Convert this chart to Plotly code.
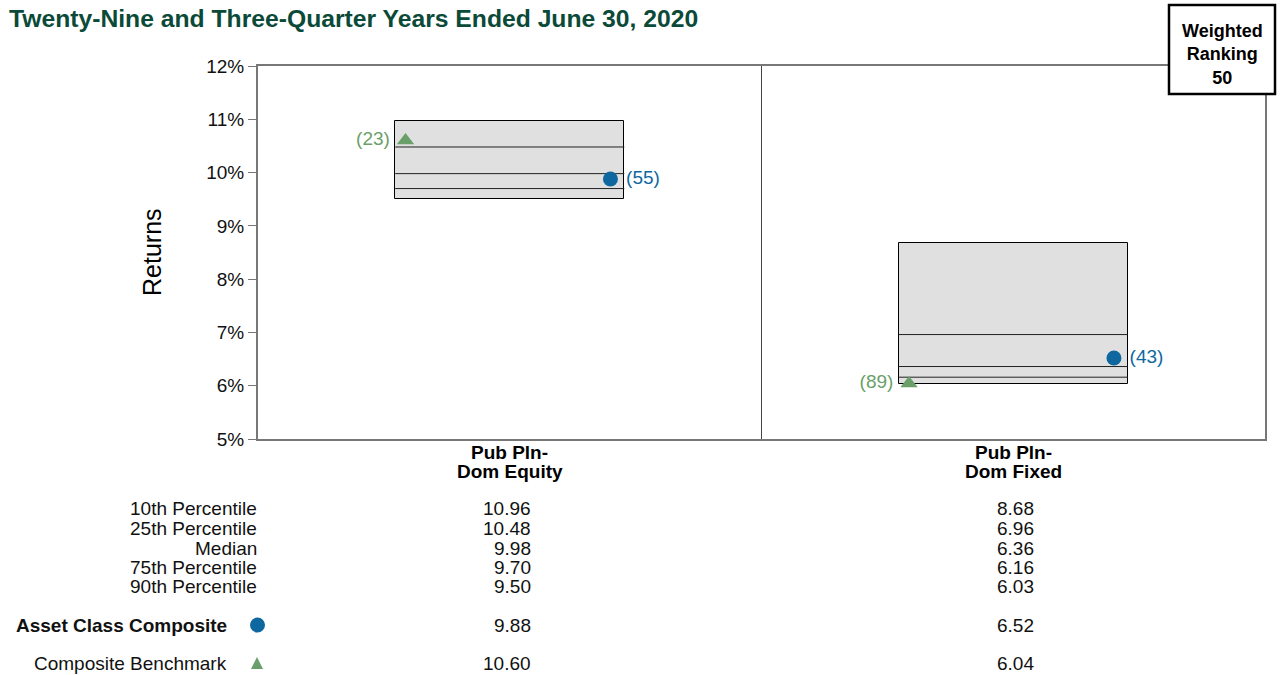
import plotly.graph_objects as go

# ---- data ----
categories = [["Pub Pln-", "Dom Equity"], ["Pub Pln-", "Dom Fixed"]]
p10 = [10.96, 8.68]
p25 = [10.48, 6.96]
median = [9.98, 6.36]
p75 = [9.70, 6.16]
p90 = [9.50, 6.03]
composite = [9.88, 6.52]
composite_rank = [55, 43]
benchmark = [10.60, 6.04]
benchmark_rank = [23, 89]
row_labels = ["10th Percentile", "25th Percentile", "Median", "75th Percentile", "90th Percentile"]
title_text = "Twenty-Nine and Three-Quarter Years Ended June 30, 2020"
weighted_ranking = 50

# ---- layout geometry ----
W, H = 1283, 675
L, R, T, B = 258, 1265, 66, 439
pw, ph = R - L, B - T
def px(x): return (x - L) / pw
def py(y): return (B - y) / ph

BOX_W = 0.455
BLUE = "#0f67a0"
GREEN = "#6a9f6a"
FONT = "Liberation Sans, Arial, sans-serif"
FS = 19

xs = list(range(len(categories)))
fig = go.Figure()

# floating boxes (10th-90th percentile)
fig.add_trace(go.Bar(
    x=xs, base=p90, y=[a - b for a, b in zip(p10, p90)], width=BOX_W,
    marker=dict(color="#e0e0e0", line=dict(color="black", width=1)),
    hoverinfo="skip", showlegend=False))

# quartile / median lines
lx, ly = [], []
for i in xs:
    for v in (p25[i], median[i], p75[i]):
        lx += [i - BOX_W / 2, i + BOX_W / 2, None]
        ly += [v, v, None]
fig.add_trace(go.Scatter(x=lx, y=ly, mode="lines",
                         line=dict(color="#222", width=1),
                         hoverinfo="skip", showlegend=False))

# composite dots
fig.add_trace(go.Scatter(
    x=[i + 0.2 for i in xs], y=composite, mode="markers+text",
    marker=dict(symbol="circle", size=15, color=BLUE),
    text=[f" ({r})" for r in composite_rank], textposition="middle right",
    textfont=dict(color=BLUE, size=FS, family=FONT), showlegend=False))

# benchmark triangles
fig.add_trace(go.Scatter(
    x=[i - 0.207 for i in xs], y=benchmark, mode="markers+text",
    marker=dict(symbol="triangle-up", size=15, color=GREEN),
    text=[f"({r}) " for r in benchmark_rank], textposition="middle left",
    textfont=dict(color=GREEN, size=FS, family=FONT), showlegend=False))

shapes = [
    dict(type="line", xref="x", yref="paper", x0=0.5, x1=0.5, y0=0, y1=1,
         line=dict(color="#444", width=1)),
    dict(type="rect", xref="paper", yref="paper",
         x0=px(1169), x1=px(1275), y0=py(94), y1=py(5),
         fillcolor="white", line=dict(color="black", width=2.5), layer="above"),
    # legend glyphs in table
    dict(type="circle", xref="paper", yref="paper",
         x0=px(250), x1=px(265), y0=py(632.5), y1=py(617.5),
         fillcolor=BLUE, line=dict(width=0)),
    dict(type="path", xref="paper", yref="paper",
         path=f"M {px(251)} {py(669)} L {px(263)} {py(669)} L {px(257)} {py(657)} Z",
         fillcolor=GREEN, line=dict(width=0)),
]

annotations = [
    dict(text=f"<b>{title_text}</b>", xref="paper", yref="paper",
         x=px(7), y=py(19), xanchor="left", yanchor="middle", showarrow=False,
         font=dict(size=24.7, color="#0b4a38", family=FONT)),
    dict(text=f"<b>Weighted<br>Ranking<br>{weighted_ranking}</b>", xref="paper", yref="paper",
         x=px(1222), y=py(55), xanchor="center", yanchor="middle", showarrow=False,
         font=dict(size=18, color="black", family=FONT)),
    dict(text="Returns", xref="paper", yref="paper", x=px(152), y=py(252),
         textangle=-90, xanchor="center", yanchor="middle", showarrow=False,
         font=dict(size=25, color="black", family=FONT)),
]

# category labels (two lines each)
for i in xs:
    for line_txt, yy in zip(categories[i], (452, 471.5)):
        annotations.append(dict(text=f"<b>{line_txt}</b>", xref="x", yref="paper", x=i, y=py(yy),
                                xanchor="center", yanchor="middle", showarrow=False,
                                font=dict(size=FS, color="black", family=FONT)))

row_y = [509, 528.5, 548, 567.5, 586.5]
stats = [p10, p25, median, p75, p90]
for lab, yy, vals in zip(row_labels, row_y, stats):
    annotations.append(dict(text=lab, xref="paper", yref="paper", x=px(259), y=py(yy),
                            xanchor="right", yanchor="middle", showarrow=False,
                            font=dict(size=FS, color="#111", family=FONT)))
    for i in xs:
        annotations.append(dict(text=f"{vals[i]:.2f}", xref="x", yref="paper", x=i, y=py(yy),
                                xanchor="right", yanchor="middle", xshift=23, showarrow=False,
                                font=dict(size=FS, color="#111", family=FONT)))

annotations.append(dict(text="<b>Asset Class Composite</b>", xref="paper", yref="paper",
                        x=px(229), y=py(625), xanchor="right", yanchor="middle", showarrow=False,
                        font=dict(size=FS, color="#111", family=FONT)))
annotations.append(dict(text="Composite Benchmark", xref="paper", yref="paper",
                        x=px(229), y=py(663), xanchor="right", yanchor="middle", showarrow=False,
                        font=dict(size=FS, color="#111", family=FONT)))
for i in xs:
    annotations.append(dict(text=f"{composite[i]:.2f}", xref="x", yref="paper", x=i, y=py(625),
                            xanchor="right", yanchor="middle", xshift=23, showarrow=False,
                            font=dict(size=FS, color="#111", family=FONT)))
    annotations.append(dict(text=f"{benchmark[i]:.2f}", xref="x", yref="paper", x=i, y=py(663),
                            xanchor="right", yanchor="middle", xshift=23, showarrow=False,
                            font=dict(size=FS, color="#111", family=FONT)))

fig.update_layout(
    width=W, height=H,
    margin=dict(l=L, r=W - R, t=T, b=H - B, pad=0),
    paper_bgcolor="white", plot_bgcolor="white",
    font=dict(family=FONT, color="black"),
    shapes=shapes, annotations=annotations,
    bargap=0,
    xaxis=dict(range=[-0.5, 1.5], tickvals=xs, ticktext=["", ""],
               showline=True, linecolor="#777", linewidth=2, mirror=True,
               showgrid=False, zeroline=False, ticks="", fixedrange=True),
    yaxis=dict(range=[5, 12], dtick=1, tick0=5, ticksuffix="%",
               showline=True, linecolor="#777", linewidth=2, mirror=True,
               showgrid=False, zeroline=False, ticks="outside", ticklen=8,
               tickcolor="#777", tickwidth=1,
               tickfont=dict(size=FS, color="#111", family=FONT), fixedrange=True),
)

fig.write_html("out.html", config={"displayModeBar": False},
               post_script="document.body.style.margin='0';")
